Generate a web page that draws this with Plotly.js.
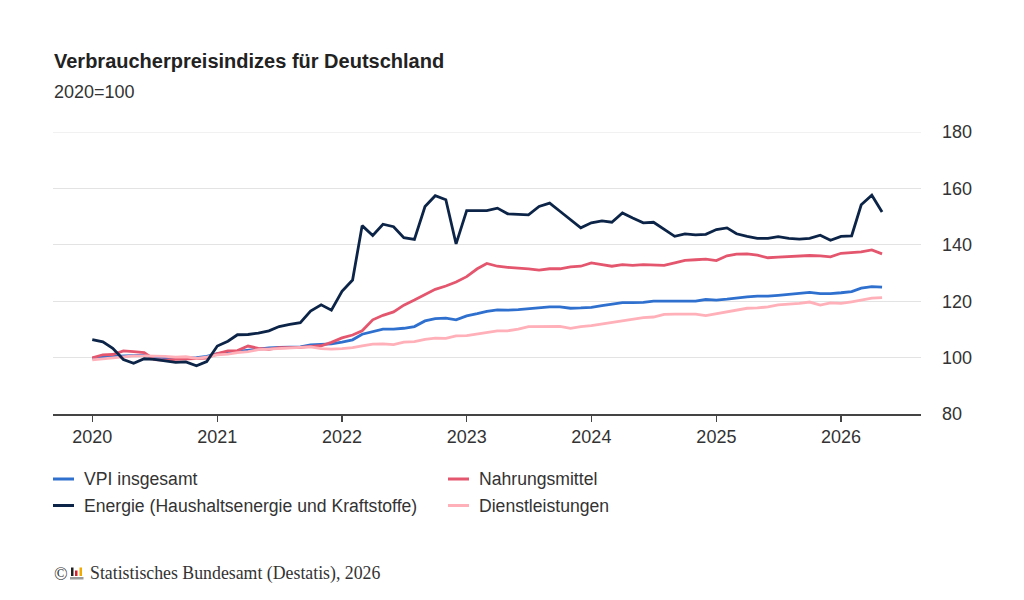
<!DOCTYPE html>
<html>
<head>
<meta charset="utf-8">
<script src="https://cdn.plot.ly/plotly-3.0.1.min.js"></script>
<style>
  html, body { margin: 0; padding: 0; background: #fff; }
  #chart { width: 1024px; height: 600px; }
</style>
</head>
<body>
<div id="chart"></div>
<script>
// monthly values, Jan 2020 .. May 2026 (2020=100)
var vpi = [
  99.7, 100.3, 100.4, 100.6, 100.6, 100.9, 100.1, 100.0, 99.7, 99.8, 100.0, 100.4,
  101.4, 101.8, 102.4, 102.8, 103.0, 103.4, 103.6, 103.8, 103.8, 104.5, 104.8, 104.9,
  105.5, 106.3, 108.3, 109.1, 110.1, 110.1, 110.4, 111.0, 113.0, 113.8, 114.0, 113.4,
  114.8, 115.6, 116.4, 116.9, 116.8, 117.0, 117.4, 117.7, 118.0, 118.0, 117.5, 117.6,
  117.8, 118.4, 118.9, 119.5, 119.5, 119.6, 120.0, 120.0, 120.0, 120.2, 120.0, 120.6,
  120.4, 120.7, 121.2, 121.5, 121.8, 121.8, 122.1, 122.4, 122.7, 123.1, 122.7, 122.7,
  123.0, 123.4, 124.6, 125.2, 125.0
];
var energie = [
  106.4, 105.6, 103.3, 99.3, 98.0, 99.6, 99.4, 98.8, 98.3, 98.5, 97.1, 98.6,
  104.1, 105.8, 108.1, 108.2, 108.7, 109.5, 111.0, 111.8, 112.4, 116.5, 118.7, 116.8,
  123.5, 127.5, 146.8, 143.3, 147.3, 146.4, 142.5, 141.9, 153.6, 157.4, 156.0, 140.3,
  152.1, 152.1, 152.1, 153.0, 151.0, 150.8, 150.6, 153.6, 154.8, 151.9, 148.9, 146.0,
  147.8, 148.5, 148.0, 151.3, 149.5, 147.8, 148.0, 145.6, 143.0, 143.9, 143.5, 143.7,
  145.4, 146.0, 143.9, 143.0, 142.3, 142.3, 142.9, 142.3, 142.0, 142.3, 143.4, 141.6,
  143.0, 143.2, 154.2, 157.6, 151.6
];
var nahrung = [
  99.9, 101.0, 101.1, 102.4, 102.1, 101.8, 99.3, 99.1, 99.4, 99.6, 99.7, 99.8,
  101.4, 102.4, 102.5, 104.1, 103.3, 102.9, 103.5, 103.6, 103.6, 104.0, 104.2, 105.4,
  107.0, 108.0, 109.5, 113.4, 115.0, 116.2, 118.6, 120.4, 122.4, 124.2, 125.4, 126.8,
  128.7, 131.5, 133.4, 132.4, 132.0, 131.8, 131.5, 131.0, 131.5, 131.5, 132.2, 132.4,
  133.6, 133.0, 132.4, 133.0, 132.7, 133.0, 132.9, 132.7, 133.6, 134.5, 134.7, 134.9,
  134.4, 136.1, 136.7, 136.8, 136.3, 135.4, 135.6, 135.8, 136.1, 136.2, 136.1, 135.7,
  137.0, 137.4, 137.5, 138.2, 136.8
];
var dienst = [
  99.2, 99.5, 99.9, 100.3, 100.6, 100.6, 100.6, 100.4, 100.2, 100.3, 99.7, 100.2,
  101.0, 101.2, 101.8, 102.1, 102.8, 103.0, 103.4, 103.4, 103.6, 103.8, 103.2, 103.0,
  103.2, 103.5, 104.2, 104.8, 104.9, 104.6, 105.5, 105.7, 106.5, 106.9, 106.8, 107.7,
  107.8, 108.3, 108.9, 109.5, 109.5, 110.1, 111.0, 111.0, 111.0, 111.1, 110.4, 111.0,
  111.3, 111.9, 112.5, 113.1, 113.6, 114.2, 114.4, 115.3, 115.4, 115.3, 115.4, 114.9,
  115.6, 116.1, 116.7, 117.5, 117.6, 118.0, 118.7, 118.9, 119.2, 119.7, 118.6, 119.4,
  119.2, 119.8, 120.4, 121.1, 121.3
];

var seriesNames = ['VPI insgesamt', 'Nahrungsmittel',
                   'Energie (Haushaltsenergie und Kraftstoffe)', 'Dienstleistungen'];
var seriesValues = [vpi, nahrung, energie, dienst];
var seriesColors = ['#2f70cf', '#e4566d', '#0c2447', '#ffb0b9'];
var drawOrder = [0, 1, 3, 2];

var yearTicks = ['2020', '2021', '2022', '2023', '2024', '2025', '2026'];
var yMin = 80, yMax = 180;

// month dates for the x axis
var months = [];
for (var i = 0; i < vpi.length; i++) {
  var yy = 2020 + Math.floor(i / 12);
  var mm = (i % 12) + 1;
  months.push(yy + '-' + (mm < 10 ? '0' + mm : mm) + '-01');
}

var M = { l: 53, r: 103, t: 132, b: 186 };
var W = 1024 - M.l - M.r, H = 600 - M.t - M.b;
function px(x) { return (x - M.l) / W; }
function py(y) { return (600 - M.b - y) / H; }

var sans = '"Liberation Sans", Arial, sans-serif';
var serif = '"Liberation Serif", "Times New Roman", serif';

var data = drawOrder.map(function (k) {
  return {
    x: months,
    y: seriesValues[k],
    name: seriesNames[k],
    type: 'scatter',
    mode: 'lines',
    line: { color: seriesColors[k], width: 2.8 },
    hoverinfo: 'skip',
    showlegend: false
  };
});

// top gridline (plotly skips the one at the range edge)
var shapes = [{
  type: 'line', xref: 'paper', yref: 'y', layer: 'below',
  x0: 0, x1: 1, y0: yMax, y1: yMax,
  line: { color: '#e3e3e3', width: 1 }
}];
var annotations = [];

// legend (two columns) built from the series
var legCols = [53, 448], legRows = [479, 505.5];
seriesNames.forEach(function (name, k) {
  var x0 = legCols[k % 2], y0 = legRows[Math.floor(k / 2)];
  shapes.push({
    type: 'line', xref: 'paper', yref: 'paper',
    x0: px(x0), x1: px(x0 + 21), y0: py(y0), y1: py(y0),
    line: { color: seriesColors[k], width: 3 }
  });
  annotations.push({
    text: name, xref: 'paper', yref: 'paper',
    x: px(x0 + 28.5), y: py(y0), xanchor: 'left', yanchor: 'middle',
    showarrow: false, font: { family: sans, size: 17.6, color: '#333' }
  });
});

annotations.push({
  text: '<b>Verbraucherpreisindizes für Deutschland</b>', xref: 'paper', yref: 'paper',
  x: px(52), y: py(61), xanchor: 'left', yanchor: 'middle',
  showarrow: false, font: { family: sans, size: 20, color: '#222' }
});
annotations.push({
  text: '2020=100', xref: 'paper', yref: 'paper',
  x: px(52), y: py(92), xanchor: 'left', yanchor: 'middle',
  showarrow: false, font: { family: sans, size: 18, color: '#333' }
});
annotations.push({
  text: '©', xref: 'paper', yref: 'paper',
  x: px(52), y: py(574), xanchor: 'left', yanchor: 'middle',
  showarrow: false, font: { family: serif, size: 18, color: '#333' }
});
annotations.push({
  text: 'Statistisches Bundesamt (Destatis), 2026', xref: 'paper', yref: 'paper',
  x: px(88), y: py(573), xanchor: 'left', yanchor: 'middle',
  showarrow: false, font: { family: serif, size: 17.8, color: '#333' }
});

// small Destatis logo
var logo = [
  [71, 567.5, 73.5, 576, '#222'],
  [75, 570.5, 77.5, 576, '#d4202c'],
  [79.5, 567.5, 82, 576, '#f2a900'],
  [70, 577, 83.5, 579.5, '#9a9a9a']
];
logo.forEach(function (r) {
  shapes.push({
    type: 'rect', xref: 'paper', yref: 'paper',
    x0: px(r[0]), x1: px(r[2]), y0: py(r[3]), y1: py(r[1]),
    fillcolor: r[4], line: { width: 0 }
  });
});

var layout = {
  width: 1024,
  height: 600,
  margin: M,
  paper_bgcolor: '#fff',
  plot_bgcolor: '#fff',
  font: { family: sans, size: 18, color: '#333' },
  showlegend: false,
  xaxis: {
    type: 'date',
    range: ['2019-09-08', '2026-08-23'],
    tickvals: yearTicks.map(function (y) { return y + '-01-01'; }),
    ticktext: yearTicks,
    ticks: 'outside', ticklen: 6, tickwidth: 1.5, tickcolor: '#444',
    showline: true, linecolor: '#444', linewidth: 1.5,
    showgrid: false, zeroline: false,
    tickfont: { family: sans, size: 18, color: '#333' },
    fixedrange: true
  },
  yaxis: {
    range: [yMin, yMax],
    dtick: 20,
    side: 'right',
    ticks: '',
    ticklabelstandoff: 20,
    gridcolor: '#e3e3e3', gridwidth: 1,
    zeroline: false, showline: false,
    tickfont: { family: sans, size: 18, color: '#333' },
    fixedrange: true
  },
  shapes: shapes,
  annotations: annotations
};

Plotly.newPlot('chart', data, layout, { displayModeBar: false, staticPlot: true });
</script>
</body>
</html>
